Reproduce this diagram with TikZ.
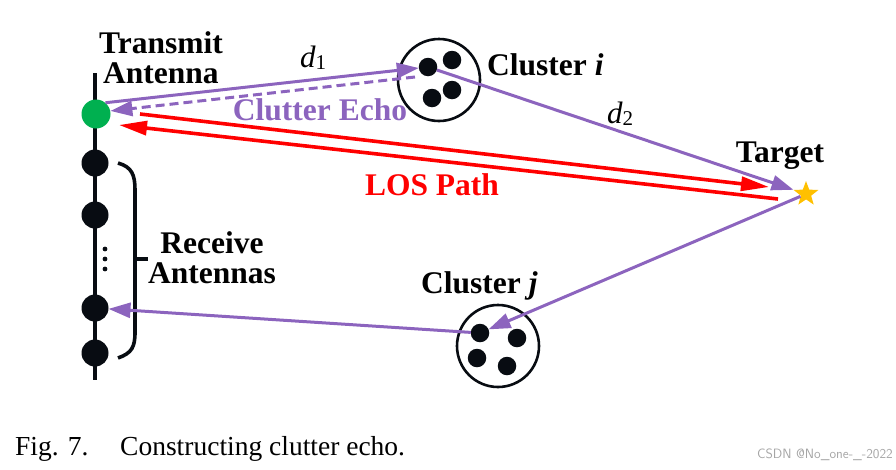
\documentclass[tikz,border=0pt]{standalone}
\usepackage{fontspec}
\setmainfont{Liberation Serif}
\usetikzlibrary{arrows.meta,shapes.geometric}
\definecolor{pur}{RGB}{140,100,190}
\definecolor{grn}{RGB}{0,176,80}
\definecolor{gold}{RGB}{255,192,0}
\definecolor{wm}{RGB}{165,165,165}
\definecolor{blk}{RGB}{8,12,18}
\tikzset{
  antdot/.style={circle, fill=blk, minimum size=27pt, inner sep=0pt, outer sep=0pt},
  cdot/.style={circle, fill=blk, minimum size=18.5pt, inner sep=0pt, outer sep=0pt},
  clus/.style={circle, draw=blk, line width=2.6pt, minimum size=82pt, inner sep=0pt},
  parrow/.style={draw=pur, line width=3pt, -{Triangle[length=22pt,width=15pt]}},
  rarrow/.style={draw=red, line width=3.6pt, -{Triangle[length=28pt,width=14pt]}},
  lbl/.style={font=\fontsize{31.5}{30}\selectfont\bfseries, inner sep=0pt, align=center},
  dlbl/.style={font=\fontsize{31}{31}\selectfont\itshape, inner sep=0pt},
}
\begin{document}
\begin{tikzpicture}[x=1pt,y=-1pt]
\useasboundingbox (0,0) rectangle (896,469);
% antenna array
\coordinate (atop) at (95,73);
\coordinate (abot) at (95,380);
\draw[blk, line width=3.2pt] (atop) -- (abot);
\node[circle, fill=grn, minimum size=29pt, inner sep=0pt] (tx) at (96,114) {};
\node[antdot] (rx1) at (95,163) {};
\node[antdot] (rx2) at (95,215) {};
\node[antdot] (rx3) at (95,308) {};
\node[antdot] (rx4) at (95,353) {};
\foreach \yy in {249,259,269} \fill[blk] (105,\yy) circle (2.4pt);
% bracket
\draw[blk, line width=3.6pt] (118,163) .. controls (132,167) and (135,175) .. (135,190)
  -- (135,332) .. controls (135,347) and (132,353) .. (118,358);
\coordinate (brk) at (135,259);
\coordinate (brkt) at (148,259);
\draw[blk, line width=3.6pt] (brk) -- (brkt);
% clusters
\node[clus] (cli) at (439,80) {};
\node[cdot] (ci1) at (428,67) {};
\node[cdot] (ci2) at (452,60) {};
\node[cdot] (ci3) at (432,98) {};
\node[cdot] (ci4) at (452,90) {};
\node[clus] (clj) at (498,346) {};
\node[cdot] (cj1) at (480,333) {};
\node[cdot] (cj2) at (517,338) {};
\node[cdot] (cj3) at (477,358) {};
\node[cdot] (cj4) at (507,366) {};
% target
\node[star, star points=5, star point ratio=2.4, fill=gold, minimum size=26pt, inner sep=0pt] (tgt) at (806,194) {};
% red LOS arrows
\coordinate (r1s) at (140,114);
\coordinate (r1e) at (769,187);
\coordinate (r2s) at (778,199);
\coordinate (r2e) at (119,125);
\draw[rarrow] (r1s) -- (r1e);
\draw[rarrow] (r2s) -- (r2e);
% purple paths
\draw[parrow] (tx.50) -- (ci1);
\coordinate (ce) at (415,77);
\draw[parrow, dash pattern=on 9pt off 5pt] (ce) -- (tx.12);
\draw[parrow] (ci1) -- (tgt);
\draw[parrow] (tgt) -- (cj1);
\draw[parrow] (cj1) -- (rx3);
% labels
\node[lbl, anchor=base] (ltx) at (161,83) {Transmit\\Antenna};
\node[lbl, anchor=base] (lrx) at (212,283) {Receive\\Antennas};
\node[lbl, anchor=base west] (lci) at (487,75) {Cluster \textit{i}};
\node[lbl, anchor=base west] (lcj) at (421,293) {Cluster \textit{j}};
\node[lbl, anchor=base] (ltg) at (780,162) {Target};
\node[lbl, anchor=base, text=pur] (lce) at (320,120) {Clutter Echo};
\node[lbl, anchor=base, text=red] (llos) at (432,195) {LOS Path};
\node[dlbl, anchor=base west] (d1) at (300,67) {d\raisebox{-2pt}{\fontsize{21}{21}\selectfont\upshape 1}};
\node[dlbl, anchor=base west] (d2) at (607,123) {d\raisebox{-2pt}{\fontsize{21}{21}\selectfont\upshape 2}};
% caption
\node[font=\fontsize{27.5}{27.5}\selectfont, inner sep=0pt, anchor=base west] (fig) at (15,455) {Fig. 7.};
\node[font=\fontsize{27.5}{27.5}\selectfont, inner sep=0pt, anchor=base west] (cap) at (120,455) {Constructing clutter echo.};
\node[font=\fontsize{13.5}{13.5}\selectfont\sffamily, text=wm, inner sep=0pt, anchor=base east] (wmk) at (893,458) {CSDN @No\_one-\_-2022};
\end{tikzpicture}
\end{document}
